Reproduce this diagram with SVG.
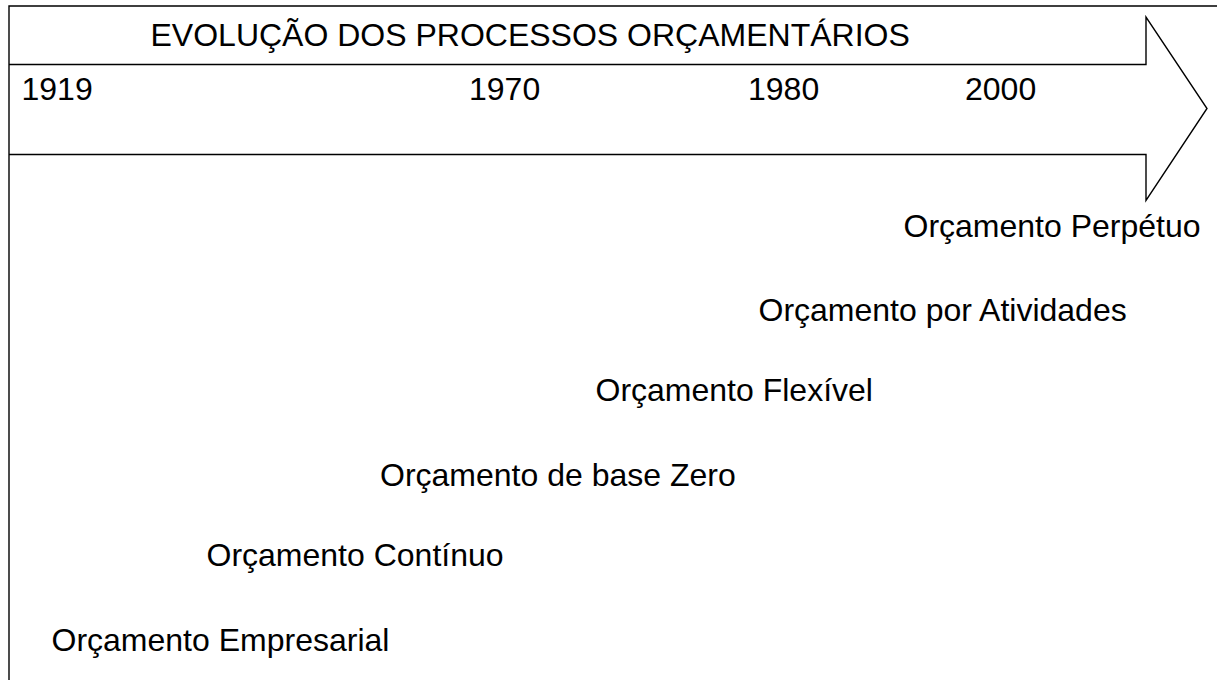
<svg xmlns="http://www.w3.org/2000/svg" width="1217" height="680" viewBox="0 0 1217 680">
<style>
.ln{fill:none;stroke:#000;stroke-width:1.4}
.t{font-family:"Liberation Sans",Arial,sans-serif;font-size:32px;fill:#000}
</style>
<rect width="1217" height="680" fill="#fff"/>
<g id="frame">
<path class="ln" d="M9,680 V6 H1217"/>
</g>
<g id="arrow">
<path class="ln" d="M9,64.5 H1146 V17 L1207,108.5 L1146,200.5 V154.5 H9"/>
<text class="t" x="150.5" y="46">EVOLUÇÃO DOS PROCESSOS ORÇAMENTÁRIOS</text>
<text class="t" x="21.5" y="100">1919</text>
<text class="t" x="469" y="100">1970</text>
<text class="t" x="748" y="100">1980</text>
<text class="t" x="965" y="100">2000</text>
</g>
<g id="perpetuo"><text class="t" x="903.5" y="237">Orçamento Perpétuo</text></g>
<g id="atividades"><text class="t" x="758.5" y="321">Orçamento por Atividades</text></g>
<g id="flexivel"><text class="t" x="595.5" y="401">Orçamento Flexível</text></g>
<g id="basezero"><text class="t" x="380" y="486">Orçamento de base Zero</text></g>
<g id="continuo"><text class="t" x="206.5" y="566">Orçamento Contínuo</text></g>
<g id="empresarial"><text class="t" x="51.5" y="651">Orçamento Empresarial</text></g>
<g id="connectors"></g>
</svg>
